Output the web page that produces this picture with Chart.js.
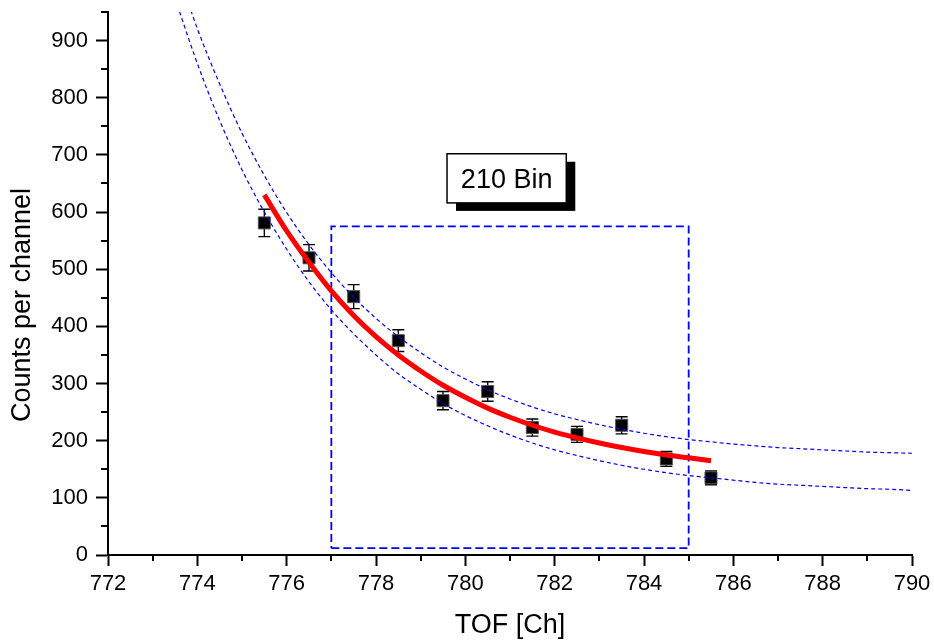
<!DOCTYPE html>
<html>
<head>
<meta charset="utf-8">
<script src="https://cdn.jsdelivr.net/npm/chart.js@4.4.0/dist/chart.umd.min.js"></script>
<style>
html,body{margin:0;padding:0;background:#fff;}
#wrap{width:934px;height:642px;position:relative;}
</style>
</head>
<body>
<div id="wrap"><canvas id="c" width="934" height="642"></canvas></div>
<script>
// ---------- data ----------
const xTickValues = [772, 774, 776, 778, 780, 782, 784, 786, 788, 790];
const yTickValues = [0, 100, 200, 300, 400, 500, 600, 700, 800, 900];
const xMinorTicks = [773, 775, 777, 779, 781, 783, 785, 787, 789];
const yMinorTicks = [50, 150, 250, 350, 450, 550, 650, 750, 850, 950];

const channels = [775.5, 776.5, 777.5, 778.5, 779.5, 780.5, 781.5, 782.5, 783.5, 784.5, 785.5];
const counts = [581, 520, 452, 375, 270, 286, 223, 211, 227, 168, 135];
const countErrors = [24, 23, 21, 19, 16, 17, 15, 14, 15, 13, 12];

const fitX = [775.5, 776, 776.5, 777, 777.5, 778, 778.5, 779, 779.5, 780, 780.5,
              781, 781.5, 782, 782.5, 783, 783.5, 784, 784.5, 785, 785.5];
const fitY = [630, 567, 512, 462, 419, 382, 350, 322, 297, 276, 257,
              241, 227, 215, 205, 196, 188, 181, 175, 170, 165];

const bandX = [773.5, 774, 774.5, 775, 775.5, 776, 776.5, 777, 777.5, 778, 778.5,
               779, 779.5, 780, 780.5, 781, 781.5, 782, 782.5, 783, 783.5, 784,
               784.5, 785, 785.5, 786, 786.5, 787, 787.5, 788, 788.5, 789, 789.5, 790];
const upperBand = [1034, 921, 824, 738, 664, 599, 543, 494, 451, 414, 382,
                   354, 329, 308, 289, 273, 259, 247, 237, 228, 220, 213,
                   207, 202, 198, 194, 191, 188, 186, 184, 182, 180, 179, 178];
const lowerBand = [974, 860, 760, 674, 600, 535, 478, 429, 387, 350, 317,
                   290, 265, 244, 226, 210, 196, 184, 174, 165, 157, 150,
                   144, 139, 135, 131, 127, 124, 122, 120, 118, 116, 115, 113];

const regionX = [777, 785, 785, 777, 777];
const regionY = [12, 12, 575, 575, 12];

const annotationText = '210 Bin';
const xTitle = 'TOF [Ch]';
const yTitle = 'Counts per channel';

// ---------- helpers ----------
const pts = (xs, ys) => xs.map((x, i) => ({x: x, y: ys[i]}));
const FONT = "'Liberation Sans', Arial, Helvetica, sans-serif";

const extras = {
  id: 'extras',
  beforeDatasetsDraw(chart) {
    const ctx = chart.ctx, xs = chart.scales.x, ys = chart.scales.y;
    ctx.save();
    ctx.strokeStyle = '#000';
    ctx.lineWidth = 1.4;
    channels.forEach((c, i) => {
      const px = xs.getPixelForValue(c);
      const t = ys.getPixelForValue(counts[i] + countErrors[i]);
      const b = ys.getPixelForValue(counts[i] - countErrors[i]);
      ctx.beginPath();
      ctx.moveTo(px, t); ctx.lineTo(px, b);
      ctx.moveTo(px - 6, t); ctx.lineTo(px + 6, t);
      ctx.moveTo(px - 6, b); ctx.lineTo(px + 6, b);
      ctx.stroke();
    });
    ctx.restore();
  },
  afterDraw(chart) {
    const ctx = chart.ctx, xs = chart.scales.x, ys = chart.scales.y;
    const area = chart.chartArea;
    ctx.save();
    // minor ticks
    ctx.strokeStyle = '#000';
    ctx.lineWidth = 2;
    ctx.beginPath();
    xMinorTicks.forEach(v => {
      const px = Math.round(xs.getPixelForValue(v));
      ctx.moveTo(px, area.bottom); ctx.lineTo(px, area.bottom + 6);
    });
    yMinorTicks.forEach(v => {
      const py = Math.round(ys.getPixelForValue(v));
      ctx.moveTo(area.left, py); ctx.lineTo(area.left - 7, py);
    });
    ctx.stroke();

    // annotation box
    const x0 = xs.getPixelForValue(779.59), x1 = xs.getPixelForValue(782.26);
    const y0 = ys.getPixelForValue(702), y1 = ys.getPixelForValue(616);
    ctx.fillStyle = '#000';
    ctx.fillRect(x0 + 9, y0 + 8, x1 - x0, y1 - y0);
    ctx.fillStyle = '#fff';
    ctx.fillRect(x0, y0, x1 - x0, y1 - y0);
    ctx.lineWidth = 1.5;
    ctx.strokeStyle = '#000';
    ctx.strokeRect(x0, y0, x1 - x0, y1 - y0);
    ctx.fillStyle = '#000';
    ctx.font = '27px ' + FONT;
    ctx.textAlign = 'center';
    ctx.textBaseline = 'alphabetic';
    ctx.fillText(annotationText, (x0 + x1) / 2, (y0 + y1) / 2 + 10);

    // axis titles
    ctx.font = '27px ' + FONT;
    ctx.fillText(xTitle, (area.left + area.right) / 2, 633);
    ctx.save();
    ctx.translate(30, 305);
    ctx.rotate(-Math.PI / 2);
    ctx.fillText(yTitle, 0, 0);
    ctx.restore();
    ctx.restore();
  }
};

const tickFont = {family: FONT, size: 22, lineHeight: 1.0};

new Chart(document.getElementById('c'), {
  type: 'scatter',
  data: {
    datasets: [
      {
        label: 'Counts',
        data: pts(channels, counts),
        pointStyle: 'rect',
        pointRadius: 8.5,
        backgroundColor: '#000',
        borderColor: '#555',
        borderWidth: 1,
        showLine: false,
        order: 5
      },
      {
        label: 'Fit',
        data: pts(fitX, fitY),
        showLine: true,
        borderColor: '#ff0000',
        borderWidth: 5,
        pointRadius: 0,
        cubicInterpolationMode: 'monotone',
        order: 1
      },
      {
        label: 'Upper band',
        data: pts(bandX, upperBand),
        showLine: true,
        borderColor: '#0000ff',
        borderWidth: 1.2,
        borderDash: [4, 3],
        pointRadius: 0,
        cubicInterpolationMode: 'monotone',
        order: 2
      },
      {
        label: 'Lower band',
        data: pts(bandX, lowerBand),
        showLine: true,
        borderColor: '#0000ff',
        borderWidth: 1.2,
        borderDash: [4, 3],
        pointRadius: 0,
        cubicInterpolationMode: 'monotone',
        order: 3
      },
      {
        label: 'Region',
        data: pts(regionX, regionY),
        showLine: true,
        borderColor: '#0000ff',
        borderWidth: 1.8,
        borderDash: [8, 4],
        pointRadius: 0,
        tension: 0,
        order: 4
      }
    ]
  },
  options: {
    responsive: false,
    animation: false,
    devicePixelRatio: 1,
    layout: {padding: {top: 12, right: 22, left: 0, bottom: 0}},
    plugins: {legend: {display: false}, tooltip: {enabled: false}},
    scales: {
      x: {
        type: 'linear',
        min: 772, max: 790,
        afterFit(s) { s.height = 87; s.paddingLeft = 0; s.paddingRight = 0; },
        afterBuildTicks(s) { s.ticks = xTickValues.map(v => ({value: v})); },
        ticks: {font: tickFont, color: '#000', padding: 7, maxRotation: 0, autoSkip: false,
                callback: v => String(v)},
        grid: {display: true, drawOnChartArea: false, drawTicks: true, tickLength: 11,
               tickWidth: 2, tickColor: '#000'},
        border: {display: true, color: '#000', width: 2}
      },
      y: {
        type: 'linear',
        min: 0, max: 950,
        afterFit(s) { s.width = 108; s.paddingTop = 0; s.paddingBottom = 0; },
        afterBuildTicks(s) { s.ticks = yTickValues.map(v => ({value: v})); },
        ticks: {font: tickFont, color: '#000', padding: 8, autoSkip: false, includeBounds: false,
                callback: v => String(v)},
        grid: {display: true, drawOnChartArea: false, drawTicks: true, tickLength: 12,
               tickWidth: 2, tickColor: '#000'},
        border: {display: true, color: '#000', width: 2}
      }
    }
  },
  plugins: [extras]
});
</script>
</body>
</html>
